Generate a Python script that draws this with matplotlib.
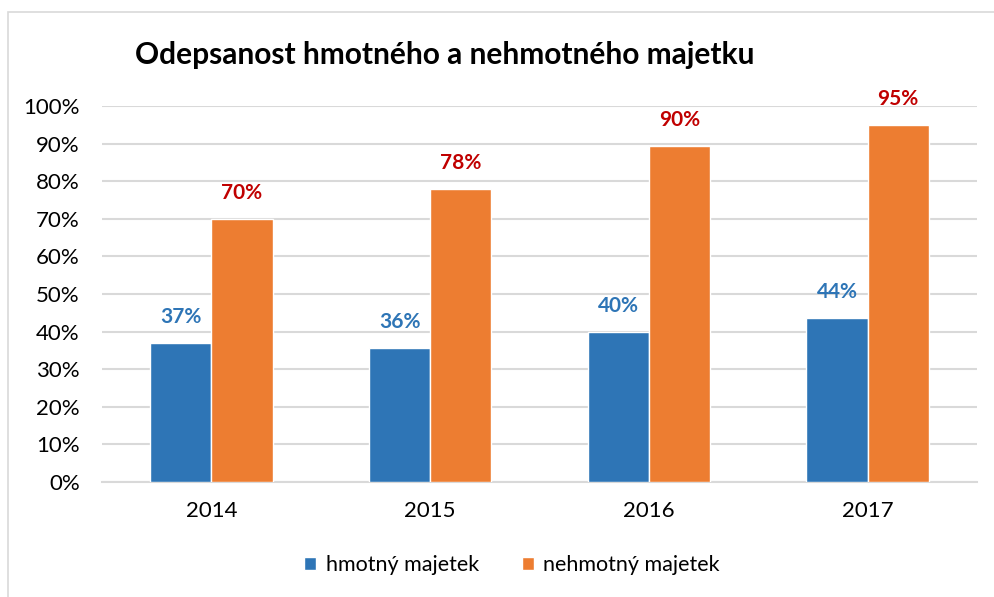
import matplotlib.pyplot as plt
import numpy as np
from matplotlib.patches import Rectangle

plt.rcParams['font.family'] = ['Lato', 'DejaVu Sans']

years = ['2014', '2015', '2016', '2017']
hmotny = [37, 36, 40, 44]
nehmotny = [70, 78, 90, 95]
hmotny_bar = [36.9, 35.7, 39.8, 43.6]
nehmotny_bar = [69.9, 77.9, 89.4, 94.9]
series_names = ['hmotný majetek', 'nehmotný majetek']

blue = '#2E75B6'
orange = '#ED7D31'

fig = plt.figure(figsize=(9.94, 5.97), dpi=100)
# chart frame, only top and left edges fall inside the image
fig.patches.append(Rectangle((8 / 994, -0.1), 1.2, 1.1 - 12 / 597, transform=fig.transFigure,
                             fill=False, edgecolor='#D9D9D9', linewidth=1.2))
ax = fig.add_axes([102 / 994, 1 - 482 / 597, 875 / 994, 376 / 597])

x = np.arange(len(years))
w = 0.28
b1 = ax.bar(x - w / 2, hmotny_bar, w, color=blue, edgecolor='white', linewidth=1, label=series_names[0], zorder=3)
b2 = ax.bar(x + w / 2, nehmotny_bar, w, color=orange, edgecolor='white', linewidth=1, label=series_names[1], zorder=3)

for xi, h, v in zip(x, hmotny_bar, hmotny):
    ax.text(xi - w / 2, h + 4.3, f'{v}%', ha='center', va='bottom', color=blue,
            fontsize=15, fontweight='bold')
for xi, h, v in zip(x, nehmotny_bar, nehmotny):
    ax.text(xi + w / 2, h + 4.3, f'{v}%', ha='center', va='bottom', color='#C00000',
            fontsize=15, fontweight='bold')

ax.set_xlim(-0.5, 3.5)
ax.set_ylim(0, 100)
ax.set_yticks(np.arange(0, 101, 10))
ax.set_yticklabels([f'{t}%' for t in range(0, 101, 10)])
ax.set_xticks(x)
ax.set_xticklabels(years)
ax.yaxis.grid(True, color='#D9D9D9', linewidth=1.5, zorder=0)
ax.set_axisbelow(True)
for s in ['top', 'right', 'left']:
    ax.spines[s].set_visible(False)
ax.spines['bottom'].set_color('#D9D9D9')
ax.spines['bottom'].set_linewidth(1.5)
ax.tick_params(axis='both', length=0, labelsize=16, colors='#000000')
ax.tick_params(axis='y', pad=16)
ax.tick_params(axis='x', pad=14)

fig.text(135 / 994, 1 - 55 / 597, 'Odepsanost hmotného a nehmotného majetku', fontsize=21.5,
         fontweight='bold', va='center', ha='left')

fig.legend(handles=[b1, b2], loc='center', bbox_to_anchor=(512 / 994, 1 - 565 / 597), ncol=2,
           frameon=False, fontsize=15.5, handlelength=0.55, handleheight=0.55, columnspacing=2.0,
           handletextpad=0.45)

fig.savefig('out.png', dpi=100)
